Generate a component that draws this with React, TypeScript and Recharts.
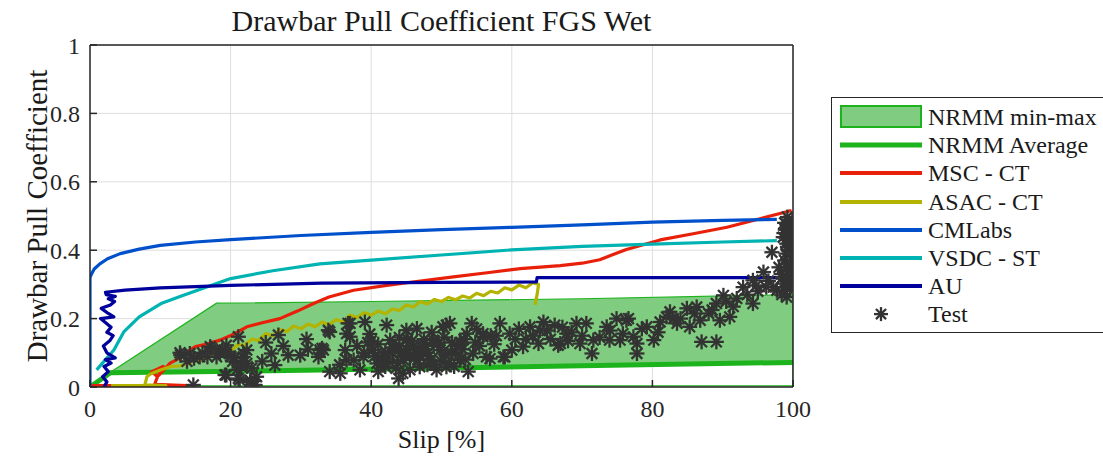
import React from "react"
import { ComposedChart, Line, Area, Scatter, XAxis, YAxis, CartesianGrid, Label, Legend, ReferenceArea } from "recharts"

// NRMM envelope (slip %, coefficient)
const nrmmSlip = [0, 2.9, 18, 40, 70, 100]
const nrmmMin = [0.003, 0.003, 0.003, 0.003, 0.003, 0.003]
const nrmmMax = [0.005, 0.043, 0.245, 0.25, 0.258, 0.27]
const nrmmAvg = [0, 0.042, 0.045, 0.052, 0.062, 0.072]

const mscSlip = [0, 13.8, 9.2, 9.6, 8.8, 10.4, 9.8, 11.4, 12.8, 14, 15, 16.5, 18.5, 20.5, 22.3, 24.5, 27, 29.5, 31.8, 34, 37.5, 42.2, 47, 51.7, 56.5, 61.2, 66.9, 70, 72.5, 74.5, 76.3, 81.1, 85.8, 90.6, 95.3, 99.8]
const mscCoef = [0.004, 0.004, 0.008, 0.03, 0.045, 0.06, 0.035, 0.07, 0.085, 0.105, 0.118, 0.125, 0.137, 0.155, 0.176, 0.188, 0.2, 0.222, 0.244, 0.263, 0.283, 0.297, 0.31, 0.322, 0.334, 0.346, 0.355, 0.362, 0.372, 0.388, 0.402, 0.43, 0.448, 0.467, 0.492, 0.516]

const asacSlip = [3, 10.8, 7.8, 8.1, 8.6, 10, 11.5, 12.9, 14.2, 15, 16, 17, 18, 19, 20, 21, 22, 23, 24, 25, 26, 27, 28, 29, 30, 31, 32, 33, 34, 35, 36, 37, 38, 39, 40, 41, 42, 43, 44, 45, 46, 47, 48, 49, 50, 51, 52, 53, 54, 55, 56, 57, 58, 59, 60, 61, 62, 63, 63.8, 63.6, 63.3]
const asacCoef = [0.004, 0.004, 0.006, 0.03, 0.038, 0.05, 0.06, 0.062, 0.07, 0.085, 0.078, 0.095, 0.088, 0.108, 0.104, 0.124, 0.122, 0.14, 0.136, 0.156, 0.15, 0.168, 0.162, 0.178, 0.17, 0.184, 0.176, 0.19, 0.182, 0.197, 0.19, 0.21, 0.203, 0.218, 0.21, 0.222, 0.214, 0.228, 0.224, 0.24, 0.234, 0.25, 0.243, 0.256, 0.25, 0.262, 0.255, 0.266, 0.26, 0.274, 0.267, 0.28, 0.275, 0.29, 0.284, 0.298, 0.29, 0.305, 0.3, 0.27, 0.24]

const cmlabsSlip = [0, 0, 0.2, 0.6, 1.4, 2.5, 4.3, 7, 10, 15, 20, 30, 40, 50, 60, 70, 80, 90, 97.7]
const cmlabsCoef = [0, 0.32, 0.33, 0.345, 0.36, 0.375, 0.39, 0.403, 0.414, 0.424, 0.431, 0.443, 0.452, 0.46, 0.467, 0.474, 0.482, 0.487, 0.49]

const vsdcSlip = [0.95, 2.2, 3.4, 4.8, 7, 10.1, 13, 17.6, 20, 26, 32.7, 40, 50, 60, 70, 80, 90, 97.7]
const vsdcCoef = [0.05, 0.08, 0.108, 0.161, 0.205, 0.244, 0.266, 0.3, 0.317, 0.34, 0.36, 0.371, 0.386, 0.401, 0.411, 0.418, 0.424, 0.428]

const auSlip = [2.0, 2.4, 1.8, 2.6, 2.0, 3.0, 2.2, 3.6, 2.4, 1.9, 2.8, 3.3, 2.4, 3.0, 1.5, 3.4, 2.6, 1.6, 2.9, 3.5, 2.6, 3.6, 2.3, 2.2, 5, 10, 20, 33, 50, 63.5, 63.6, 97.7]
const auCoef = [0, 0.015, 0.03, 0.045, 0.06, 0.07, 0.08, 0.085, 0.1, 0.12, 0.135, 0.15, 0.16, 0.175, 0.2, 0.205, 0.215, 0.23, 0.24, 0.25, 0.258, 0.265, 0.27, 0.277, 0.283, 0.29, 0.297, 0.304, 0.306, 0.307, 0.32, 0.32]

// measured test runs
const testSlip = [
  12.9, 14.8, 16.7, 14.7, 12.8, 14.2, 15.6, 17.3, 18.5, 19.4, 21.1, 19.4, 20.9, 21.8, 22.3, 21.3, 22.8, 23.2, 23.7, 25.8,
  26.3, 26.8, 28.2, 29.9, 32.5, 33, 33.9, 17.1, 18, 19.4, 21.8, 22.3, 19.2, 21.1, 22.8, 23.5, 32.7, 34.1, 35.6, 36.5,
  36.5, 20.3, 21.5, 20, 36.7, 39.1, 42.2, 37, 36.3, 37.5, 38.4, 40.3, 40.8, 42.7, 43.9, 45, 46.5, 46, 44.6, 45.5,
  47.4, 48.4, 46.9, 48.8, 50.2, 51.2, 49.8, 50.7, 49.3, 52.6, 53.6, 54.3, 54.5, 53.8, 55.9, 56.4, 38.9, 41.7, 43.1, 34.1,
  37, 50.7, 33.2, 44, 45.5, 47.5, 42, 39.5, 48, 51.5, 52, 43.5, 41, 44.5, 55.9, 58.3, 59.7, 56.9, 59, 60,
  61.6, 62.6, 63.8, 64.5, 66.1, 66.9, 69.2, 70.6, 69.7, 71.4, 71.6, 73.5, 74.9, 76.6, 75.4, 73.9, 77.3, 77.8, 67.8, 66.6,
  58.8, 57.5, 63, 68.5, 76.3, 75.8, 77.8, 79.2, 80.2, 81.1, 82.5, 83.5, 84.9, 86.3, 85.3, 87, 89.1, 86.8, 89.1, 90.1,
  91, 89.6, 92, 92.9, 94.3, 94.8, 96.2, 97.7, 97, 95.8, 94.3, 97.2, 99.1, 99.1, 99.6, 99.1, 99.8, 99.1, 99.8, 98.6,
  99.9, 98.6, 99.7, 99.3, 98.8, 99.5, 99.9, 98.9, 99.6, 99.2, 98.3, 99.9, 83, 88, 91.5, 93.5,
  40.5, 42.5, 44.2, 46.2, 47.8, 49, 50.5, 52.8, 45.2, 43, 41.5, 48.6, 51, 53, 46.8, 39.8, 38, 35.5, 55, 57,
  61, 62, 64, 65.5, 67.2, 68, 70, 72.5, 74, 78.5, 80.8, 82, 84, 86, 88.5, 90.5, 95, 96.5, 98, 99.4,
  99.6, 98.7, 99.8, 99.3, 99.7, 99, 98.5, 99.4, 31, 27.5, 24.5, 30.8, 25, 13.8, 16, 18.8, 20.6, 23, 60.5, 65,
  41, 42, 43.2, 44.8, 45.8, 46.6, 47.2, 48.2, 49.4, 50, 51.4, 52.2, 53.4, 54.8, 41.8, 43.8, 45, 46.4, 48, 49.6,
  51.8, 53.2, 39, 40, 44, 47, 50.4, 52.6, 55.4, 57.8, 98.9, 99.5, 99.2, 99.8, 99.0, 99.6, 98.4, 99.3, 99.9, 98.8,
]
const testCoef = [
  0.093, 0.084, 0.088, 0.006, 0.1, 0.098, 0.088, 0.113, 0.098, 0.122, 0.147, 0.035, 0.05, 0.088, 0.108, 0.02, 0.02, 0.006, 0.03, 0.098,
  0.064, 0.152, 0.093, 0.093, 0.088, 0.113, 0.166, 0.118, 0.088, 0.103, 0.098, 0.069, 0.035, 0.025, 0.015, 0.006, 0.108, 0.045, 0.04, 0.079,
  0.156, 0.075, 0.06, 0.09, 0.186, 0.19, 0.181, 0.147, 0.108, 0.079, 0.05, 0.108, 0.069, 0.137, 0.025, 0.166, 0.171, 0.118, 0.079, 0.05,
  0.108, 0.079, 0.059, 0.137, 0.176, 0.186, 0.108, 0.059, 0.05, 0.079, 0.156, 0.186, 0.098, 0.045, 0.147, 0.088, 0.088, 0.069, 0.098, 0.161,
  0.186, 0.181, 0.108, 0.12, 0.09, 0.14, 0.1, 0.13, 0.1, 0.13, 0.1, 0.055, 0.045, 0.04, 0.156, 0.186, 0.156, 0.083, 0.088, 0.108,
  0.118, 0.176, 0.127, 0.19, 0.181, 0.127, 0.186, 0.186, 0.127, 0.098, 0.137, 0.176, 0.2, 0.2, 0.137, 0.137, 0.147, 0.098, 0.156, 0.122,
  0.088, 0.125, 0.15, 0.16, 0.195, 0.156, 0.127, 0.176, 0.137, 0.19, 0.22, 0.186, 0.23, 0.234, 0.176, 0.132, 0.132, 0.195, 0.244, 0.268,
  0.205, 0.195, 0.259, 0.292, 0.244, 0.297, 0.292, 0.283, 0.394, 0.336, 0.312, 0.292, 0.263, 0.477, 0.448, 0.419, 0.38, 0.35, 0.322, 0.302,
  0.487, 0.438, 0.46, 0.4, 0.37, 0.34, 0.31, 0.28, 0.29, 0.497, 0.33, 0.42, 0.2, 0.215, 0.235, 0.27,
  0.09, 0.075, 0.1, 0.085, 0.12, 0.065, 0.095, 0.125, 0.14, 0.115, 0.085, 0.16, 0.07, 0.11, 0.095, 0.155, 0.12, 0.065, 0.17, 0.15,
  0.17, 0.14, 0.165, 0.14, 0.175, 0.135, 0.15, 0.145, 0.165, 0.17, 0.16, 0.205, 0.2, 0.215, 0.225, 0.25, 0.28, 0.31, 0.35, 0.47,
  0.43, 0.45, 0.36, 0.33, 0.41, 0.39, 0.32, 0.3, 0.11, 0.12, 0.075, 0.14, 0.13, 0.075, 0.1, 0.108, 0.085, 0.055, 0.14, 0.165,
  0.125, 0.06, 0.115, 0.1, 0.135, 0.08, 0.105, 0.09, 0.125, 0.075, 0.1, 0.12, 0.08, 0.13, 0.09, 0.07, 0.11, 0.095, 0.065, 0.13,
  0.06, 0.14, 0.1, 0.135, 0.145, 0.12, 0.145, 0.13, 0.12, 0.15, 0.46, 0.44, 0.41, 0.39, 0.36, 0.35, 0.27, 0.43, 0.47, 0.48,
]

const xTicks = [0, 20, 40, 60, 80, 100]
const yTicks = [0, 0.2, 0.4, 0.6, 0.8, 1]

const FONT = '"Liberation Serif", "Times New Roman", Times, serif'
const INK = "#262626"
const GREEN = "#1db31d"
const BAND_FILL = "#80cc80"

const series = [
  { name: "MSC - CT", color: "#e8200a", slip: mscSlip, coef: mscCoef },
  { name: "ASAC - CT", color: "#b3b300", slip: asacSlip, coef: asacCoef },
  { name: "CMLabs", color: "#0050cc", slip: cmlabsSlip, coef: cmlabsCoef },
  { name: "VSDC - ST", color: "#00b3b3", slip: vsdcSlip, coef: vsdcCoef },
  { name: "AU", color: "#00009c", slip: auSlip, coef: auCoef },
]

const toPoints = (xs: number[], ys: number[]) => xs.map((x, i) => ({ x, y: ys[i] }))

const bandData = nrmmSlip.map((x, i) => ({ x, band: [nrmmAvg[i], nrmmMax[i]] }))
const avgData = toPoints(nrmmSlip, nrmmAvg)
const last = nrmmSlip.length - 1
// bottom and right edge of the envelope
const outlineData = [
  { x: nrmmSlip[0], y: nrmmMin[0] },
  { x: nrmmSlip[last], y: nrmmMin[last] },
  { x: nrmmSlip[last], y: nrmmMax[last] },
]
const testData = toPoints(testSlip, testCoef)

function Star({ cx, cy, r = 7.5, color = "#333333" }: { cx?: number; cy?: number; r?: number; color?: string }) {
  if (cx == null || cy == null) return null
  const d = r * 0.72
  return (
    <g stroke={color} strokeWidth={2.3} strokeLinecap="butt">
      <line x1={cx - r} y1={cy} x2={cx + r} y2={cy} />
      <line x1={cx} y1={cy - r} x2={cx} y2={cy + r} />
      <line x1={cx - d} y1={cy - d} x2={cx + d} y2={cy + d} />
      <line x1={cx - d} y1={cy + d} x2={cx + d} y2={cy - d} />
    </g>
  )
}

function LegendBox() {
  const rowH = 28.2
  const row = (key: string, swatch: React.ReactNode, label: string) => (
    <div key={key} style={{ display: "flex", alignItems: "center", height: rowH }}>
      <svg width={82} height={rowH} style={{ marginLeft: 8, flex: "none" }}>
        {swatch}
      </svg>
      <span style={{ marginLeft: 6, fontSize: 24, lineHeight: "24px", color: "#1a1a1a", whiteSpace: "nowrap" }}>{label}</span>
    </div>
  )
  return (
    <div
      style={{
        boxSizing: "border-box",
        width: 280,
        height: 236,
        border: `1.5px solid ${INK}`,
        background: "#fff",
        paddingTop: 5,
        fontFamily: FONT,
      }}
    >
      {row(
        "band",
        <rect x={1} y={3} width={80} height={21} fill={BAND_FILL} stroke={GREEN} strokeWidth={2} />,
        "NRMM min-max"
      )}
      {row("avg", <line x1={0} x2={82} y1={rowH / 2} y2={rowH / 2} stroke={GREEN} strokeWidth={5} />, "NRMM Average")}
      {series.map((s) =>
        row(s.name, <line x1={0} x2={82} y1={rowH / 2} y2={rowH / 2} stroke={s.color} strokeWidth={4} />, s.name)
      )}
      {row("test", <Star cx={41} cy={rowH / 2} r={7} />, "Test")}
    </div>
  )
}

const NoLabel = () => <g />

export default function App() {
  const tickStyle = { fontSize: 24, fill: INK, fontFamily: FONT }
  const axisStroke = { stroke: INK, strokeWidth: 1.5 }
  return (
    <div
      style={{
        position: "absolute",
        left: 0,
        top: 0,
        width: 1103,
        height: 459,
        background: "#fff",
        fontFamily: FONT,
        overflow: "hidden",
      }}
    >
      <div
        style={{
          position: "absolute",
          left: 90,
          width: 703,
          top: 6,
          textAlign: "center",
          fontSize: 30,
          lineHeight: "30px",
          color: "#1a1a1a",
        }}
      >
        Drawbar Pull Coefficient FGS Wet
      </div>
      <ComposedChart width={1103} height={459} margin={{ top: 44, right: 309, bottom: 0, left: 0 }}>
        <CartesianGrid stroke="#dedede" strokeWidth={1} />
        <XAxis
          dataKey="x"
          type="number"
          domain={[0, 100]}
          ticks={xTicks}
          allowDataOverflow
          height={72}
          tickSize={-7}
          tickMargin={20}
          tick={tickStyle}
          axisLine={axisStroke}
          tickLine={axisStroke}
        >
          <Label value="Slip [%]" position="insideBottom" offset={11} fontSize={26} fill="#1a1a1a" fontFamily={FONT} />
        </XAxis>
        <XAxis
          xAxisId="top"
          orientation="top"
          type="number"
          domain={[0, 100]}
          ticks={xTicks}
          height={1}
          tickSize={-7}
          tick={NoLabel}
          axisLine={axisStroke}
          tickLine={axisStroke}
        />
        <YAxis
          type="number"
          domain={[0, 1]}
          ticks={yTicks}
          allowDataOverflow
          width={90}
          tickSize={-7}
          tickMargin={17}
          tick={tickStyle}
          axisLine={axisStroke}
          tickLine={axisStroke}
        >
          <Label
            value="Drawbar Pull Coefficient"
            angle={-90}
            position="insideLeft"
            offset={37}
            fontSize={29}
            fill="#1a1a1a"
            fontFamily={FONT}
            style={{ textAnchor: "middle" }}
          />
        </YAxis>
        <YAxis
          yAxisId="right"
          orientation="right"
          type="number"
          domain={[0, 1]}
          ticks={yTicks}
          width={1}
          tickSize={-7}
          tick={NoLabel}
          axisLine={axisStroke}
          tickLine={axisStroke}
        />

        {/* plot box */}
        <ReferenceArea
          xAxisId="top"
          yAxisId="right"
          x1={0}
          x2={100}
          y1={0}
          y2={1}
          fill="none"
          stroke={INK}
          strokeWidth={1.5}
          ifOverflow="visible"
        />

        <Area
          data={bandData}
          dataKey="band"
          type="linear"
          fill={BAND_FILL}
          fillOpacity={1}
          stroke={GREEN}
          strokeWidth={1.2}
          isAnimationActive={false}
          activeDot={false}
        />
        <Line
          data={outlineData}
          dataKey="y"
          type="linear"
          stroke={GREEN}
          strokeWidth={1.2}
          dot={false}
          activeDot={false}
          isAnimationActive={false}
        />
        <Line
          data={avgData}
          dataKey="y"
          type="linear"
          stroke={GREEN}
          strokeWidth={5}
          dot={false}
          activeDot={false}
          isAnimationActive={false}
        />
        {series.map((s) => (
          <Line
            key={s.name}
            data={toPoints(s.slip, s.coef)}
            dataKey="y"
            name={s.name}
            type="linear"
            stroke={s.color}
            strokeWidth={3.2}
            strokeLinejoin="round"
            dot={false}
            activeDot={false}
            isAnimationActive={false}
          />
        ))}
        <Scatter data={testData} dataKey="y" shape={(p: any) => <Star cx={p.cx} cy={p.cy} />} isAnimationActive={false} />

        <Legend
          layout="vertical"
          align="center"
          verticalAlign="middle"
          wrapperStyle={{ left: 831, top: 97, width: 280, height: 236 }}
          content={() => <LegendBox />}
        />
      </ComposedChart>
    </div>
  )
}
